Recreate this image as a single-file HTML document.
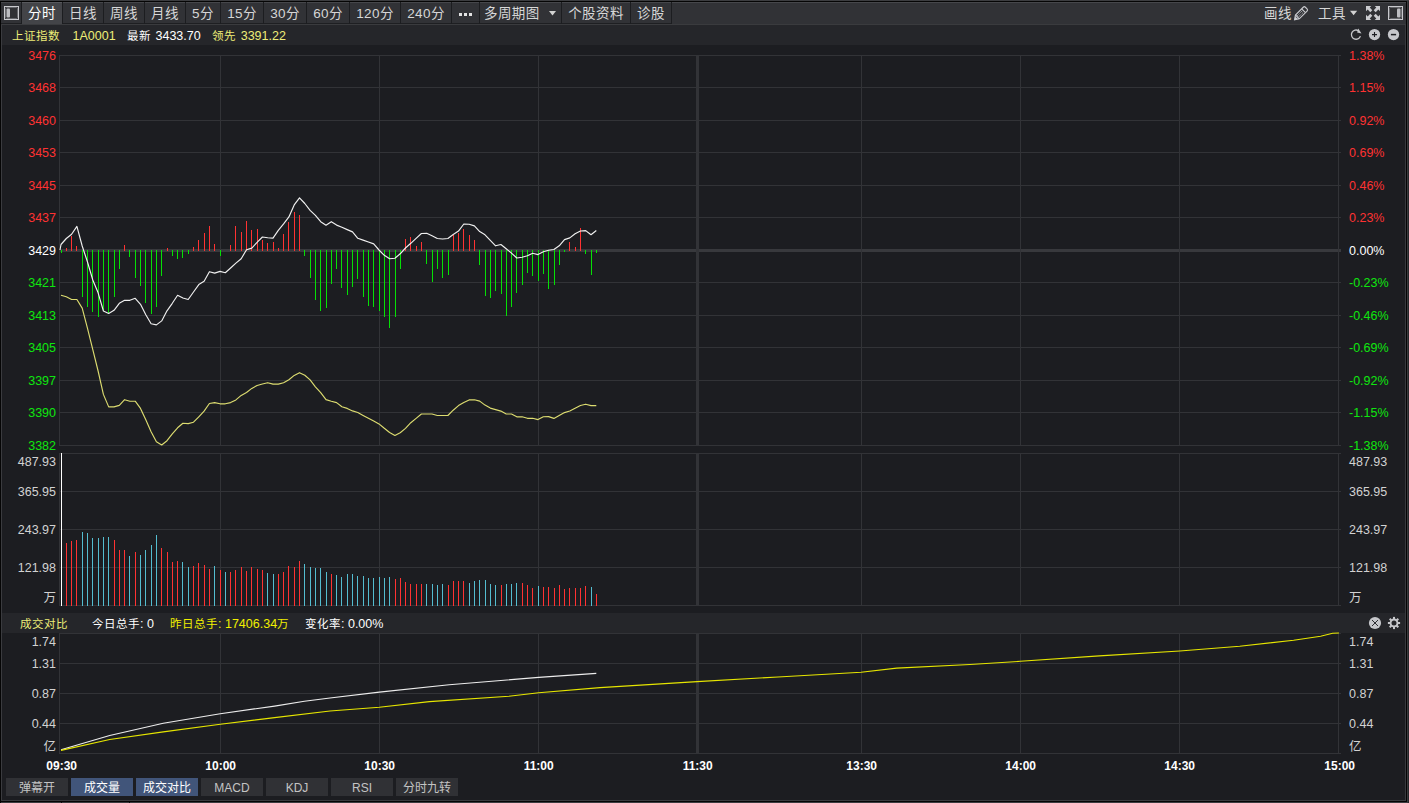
<!DOCTYPE html><html lang="zh"><head><meta charset="utf-8"><title>上证指数 分时</title><style>
*{margin:0;padding:0;box-sizing:border-box}
html,body{width:1409px;height:803px;overflow:hidden;background:#1c1d21}
body{position:relative;font-family:"Liberation Sans","Noto Sans CJK SC",sans-serif;font-size:12px;color:#d2d2d2}
.abs{position:absolute}
#tb{position:absolute;left:1px;top:2px;width:1405px;height:22px;background:#313236;border-top:1px solid #46474b}
.sep{position:absolute;top:-1px;width:1px;height:22px;background:#1c1d20}
.tab{position:absolute;top:0;height:21px;line-height:22px;font-size:13.5px;letter-spacing:0.4px;color:#d6d6d6;text-align:center;padding-left:1px;box-shadow:inset 0 -1px 0 #1e1f22;white-space:nowrap}
.tab.on{background:#434448;color:#fff;top:-1px;height:22px;border-top:1px solid #58595d;box-shadow:none}
.tr{position:absolute;top:0;height:21px;line-height:22px;font-size:13.5px;letter-spacing:0.4px;color:#d6d6d6;white-space:nowrap}
#info{position:absolute;left:2px;top:25px;width:1403px;height:20px;background:#25262a}
#info span,#hdr span{position:absolute;top:1px;line-height:20px;white-space:nowrap;font-size:11.5px;letter-spacing:0.5px}
#hdr{position:absolute;left:2px;top:613px;width:1403px;height:20px;background:#25262a}
.yl{position:absolute;left:0;width:56px;text-align:right;line-height:14px;height:14px;white-space:nowrap;font-size:12.5px}
.yr{position:absolute;left:1349px;text-align:left;line-height:14px;height:14px;white-space:nowrap;font-size:12.5px}
#info span.n,#hdr span .n,.n{font-size:12.5px;letter-spacing:0}i{font-style:normal}.r{color:#ff3232}.g{color:#0fe60f}.w{color:#fff}.y{color:#eded78}
.tm{position:absolute;top:758px;width:60px;margin-left:-30px;text-align:center;line-height:16px;font-weight:bold;color:#fff;font-size:12px}
.btn{position:absolute;top:778px;width:62px;height:18px;line-height:20px;overflow:hidden;text-align:center;background:#303135;color:#c4c4c4;font-size:12px;white-space:nowrap}
.btn.on{background:#41557a;color:#fff}
svg{position:absolute;left:0;top:0}
</style></head><body>
<div class="abs" style="left:0;top:0;width:1409px;height:1px;background:#3c3d40"></div>
<div class="abs" style="left:0;top:1px;width:1409px;height:1px;background:#050505"></div>
<div class="abs" style="left:0;top:1px;width:1px;height:802px;background:#050505"></div>
<div class="abs" style="left:1px;top:24px;width:1px;height:776px;background:#3a3b3f"></div>
<div class="abs" style="left:1405px;top:25px;width:1px;height:775px;background:#38393d"></div>
<div class="abs" style="left:1406px;top:1px;width:1px;height:801px;background:#050505"></div>
<div class="abs" style="left:1407px;top:1px;width:1px;height:802px;background:#38393c"></div>
<div class="abs" style="left:1408px;top:1px;width:1px;height:802px;background:#26272a"></div>
<div class="abs" style="left:1px;top:23px;width:1405px;height:1px;background:#1d1e21"></div>
<div class="abs" style="left:1px;top:24px;width:1405px;height:1px;background:#3a3b3e"></div>
<div class="abs" style="left:1px;top:800px;width:1405px;height:1px;background:#3a3b3f"></div>
<div class="abs" style="left:0;top:801px;width:1407px;height:1px;background:#050505"></div>
<div class="abs" style="left:1px;top:802px;width:1406px;height:1px;background:#3c3d41"></div>
<div class="abs" style="left:61px;top:802px;width:1px;height:1px;background:#0c0c0e"></div>
<div class="abs" style="left:129px;top:802px;width:1px;height:1px;background:#0c0c0e"></div>
<div id="tb">
<svg width="21" height="21" style="left:0;top:0"><rect x="3.500" y="3.500" width="14" height="13" fill="#303134" stroke="#c8c9cd"/><rect x="4.500" y="4.500" width="12" height="11" rx="1" fill="none" stroke="#66676b"/><rect x="5.500" y="5.500" width="3.500" height="9" rx="1" fill="#bcbdc1"/></svg>
<div class="tab on" style="left:20px;width:41px">分时</div>
<div class="tab" style="left:61px;width:41px">日线</div>
<div class="tab" style="left:102px;width:41px">周线</div>
<div class="tab" style="left:143px;width:41px">月线</div>
<div class="tab" style="left:184px;width:35px">5分</div>
<div class="tab" style="left:219px;width:43px">15分</div>
<div class="tab" style="left:262px;width:43px">30分</div>
<div class="tab" style="left:305px;width:43px">60分</div>
<div class="tab" style="left:348px;width:51px">120分</div>
<div class="tab" style="left:399px;width:51px">240分</div>
<div class="tab" style="left:450px;width:28px"></div>
<div class="tab" style="left:478px;width:82px;text-align:left;padding-left:5px">多周期图</div>
<div class="tab" style="left:560px;width:69px">个股资料</div>
<div class="tab" style="left:629px;width:41px">诊股</div>
<div class="tab" style="left:0;width:20px"></div>
<div class="sep" style="left:20px"></div>
<div class="sep" style="left:61px"></div>
<div class="sep" style="left:102px"></div>
<div class="sep" style="left:143px"></div>
<div class="sep" style="left:184px"></div>
<div class="sep" style="left:219px"></div>
<div class="sep" style="left:262px"></div>
<div class="sep" style="left:305px"></div>
<div class="sep" style="left:348px"></div>
<div class="sep" style="left:399px"></div>
<div class="sep" style="left:450px"></div>
<div class="sep" style="left:478px"></div>
<div class="sep" style="left:560px"></div>
<div class="sep" style="left:629px"></div>
<div class="sep" style="left:670px"></div>
<svg width="120" height="21" style="left:450px;top:0"><g fill="#e2e2e2"><rect x="8" y="10" width="3" height="3"/><rect x="13" y="10" width="3" height="3"/><rect x="18" y="10" width="3" height="3"/></g><path d="M98 8h7l-3.5 4.5z" fill="#d2d2d2"/></svg>
<div class="tr" style="left:1263px">画线</div>
<svg width="18" height="21" style="left:1292px;top:0" fill="none" stroke="#c9cace" stroke-width="1.150"><g transform="translate(1.400,16.900) rotate(-45)"><path d="M0.300 0L4.200-2.700H15.200Q16.700-2.700 16.700-1.200V1.200Q16.700 2.700 15.200 2.700H4.200Z"/><path d="M0.300 0L3-1.700V1.700Z" fill="#c9cace" stroke="none"/><path d="M4.200-2.700V2.700M13-2.700V2.700"/><path d="M5-0.900H12.500M5 0.900H12.500" stroke-dasharray="1 0.800" stroke-width="0.900"/></g></svg>
<div class="tr" style="left:1317px">工具</div>
<svg width="10" height="21" style="left:1349px;top:0"><path d="M0 7.800h7.200l-3.600 4.500z" fill="#d2d2d2"/></svg>
<svg width="16" height="21" style="left:1364px;top:0" fill="#cbccd0"><path id="fa" d="M1 3h5.300l-1.600 1.600 2.600 2.600-2 2-2.600-2.600L1 8.300z"/><use href="#fa" transform="translate(16,0) scale(-1,1)"/><use href="#fa" transform="translate(0,20) scale(1,-1)"/><use href="#fa" transform="translate(16,20) scale(-1,-1)"/></svg>
<svg width="18" height="21" style="left:1386px;top:0"><rect x="1.500" y="3.500" width="14" height="13" fill="#303134" stroke="#c8c9cd"/><rect x="2.500" y="4.500" width="12" height="11" rx="1" fill="none" stroke="#66676b"/><rect x="10" y="5.500" width="3.500" height="9" rx="1" fill="#bcbdc1"/></svg>
</div>
<div id="info">
<span class="y" style="left:10px">上证指数</span><span class="y n" style="left:70.500px">1A0001</span><span class="w" style="left:125px">最新</span><span class="w n" style="left:153.500px">3433.70</span><span class="y" style="left:210px">领先</span><span class="y n" style="left:238.700px">3391.22</span>
<svg width="60" height="20" style="left:1344px;top:0"><path d="M12.600 5.800A4.600 4.600 0 1 0 14.400 11.100" fill="none" stroke="#c6c7cb" stroke-width="1.300"/><path d="M12.300 3.500l3.200 5-4.400-1z" fill="#c6c7cb"/><circle cx="28.500" cy="9.600" r="5.650" fill="#c6c7cb"/><path d="M26 9.600h5M28.500 7.100v5" stroke="#1c1d21" stroke-width="1.100"/><circle cx="47.500" cy="9.600" r="5.650" fill="#c6c7cb"/><path d="M44.900 9.600h5.200" stroke="#1c1d21" stroke-width="1.500"/></svg>
</div>
<div id="hdr">
<span class="y" style="left:18px">成交对比</span><span class="w" style="left:90px">今日总手<i class="n">: 0</i></span><span style="left:168px;color:#f0f000">昨日总手<i class="n">: 17406.34</i>万</span><span class="w" style="left:303px">变化率<i class="n">: 0.00%</i></span>
<svg width="42" height="20" style="left:1362px;top:0"><circle cx="11" cy="10" r="6.100" fill="#c6c7cb"/><path d="M8 7l6 6M14 7l-6 6" stroke="#1c1d21" stroke-width="0.900"/><g transform="translate(30,10)" fill="#c6c7cb"><circle r="3.450" fill="none" stroke="#c6c7cb" stroke-width="1.900"/><rect x="-1" y="-6.100" width="2" height="2.600" transform="rotate(0)"/><rect x="-1" y="-6.100" width="2" height="2.600" transform="rotate(45)"/><rect x="-1" y="-6.100" width="2" height="2.600" transform="rotate(90)"/><rect x="-1" y="-6.100" width="2" height="2.600" transform="rotate(135)"/><rect x="-1" y="-6.100" width="2" height="2.600" transform="rotate(180)"/><rect x="-1" y="-6.100" width="2" height="2.600" transform="rotate(225)"/><rect x="-1" y="-6.100" width="2" height="2.600" transform="rotate(270)"/><rect x="-1" y="-6.100" width="2" height="2.600" transform="rotate(315)"/></g></svg>
</div>
<div class="yl r" style="top:49px">3476</div><div class="yr r" style="top:49px">1.38%</div>
<div class="yl r" style="top:81px">3468</div><div class="yr r" style="top:81px">1.15%</div>
<div class="yl r" style="top:114px">3460</div><div class="yr r" style="top:114px">0.92%</div>
<div class="yl r" style="top:146px">3453</div><div class="yr r" style="top:146px">0.69%</div>
<div class="yl r" style="top:179px">3445</div><div class="yr r" style="top:179px">0.46%</div>
<div class="yl r" style="top:211px">3437</div><div class="yr r" style="top:211px">0.23%</div>
<div class="yl w" style="top:244px">3429</div><div class="yr w" style="top:244px">0.00%</div>
<div class="yl g" style="top:276px">3421</div><div class="yr g" style="top:276px">-0.23%</div>
<div class="yl g" style="top:309px">3413</div><div class="yr g" style="top:309px">-0.46%</div>
<div class="yl g" style="top:341px">3405</div><div class="yr g" style="top:341px">-0.69%</div>
<div class="yl g" style="top:374px">3397</div><div class="yr g" style="top:374px">-0.92%</div>
<div class="yl g" style="top:406px">3390</div><div class="yr g" style="top:406px">-1.15%</div>
<div class="yl g" style="top:439px">3382</div><div class="yr g" style="top:439px">-1.38%</div>
<div class="yl" style="top:455px">487.93</div><div class="yr" style="top:455px">487.93</div>
<div class="yl" style="top:485px">365.95</div><div class="yr" style="top:485px">365.95</div>
<div class="yl" style="top:523px">243.97</div><div class="yr" style="top:523px">243.97</div>
<div class="yl" style="top:561px">121.98</div><div class="yr" style="top:561px">121.98</div>
<div class="yl" style="top:591px">万</div><div class="yr" style="top:591px">万</div>
<div class="yl" style="top:635px">1.74</div><div class="yr" style="top:635px">1.74</div>
<div class="yl" style="top:657px">1.31</div><div class="yr" style="top:657px">1.31</div>
<div class="yl" style="top:687px">0.87</div><div class="yr" style="top:687px">0.87</div>
<div class="yl" style="top:717px">0.44</div><div class="yr" style="top:717px">0.44</div>
<div class="yl" style="top:740px">亿</div><div class="yr" style="top:740px">亿</div>
<div class="tm" style="left:61.7px">09:30</div>
<div class="tm" style="left:220.7px">10:00</div>
<div class="tm" style="left:379.7px">10:30</div>
<div class="tm" style="left:538.7px">11:00</div>
<div class="tm" style="left:697.7px">11:30</div>
<div class="tm" style="left:861.7px">13:30</div>
<div class="tm" style="left:1020.7px">14:00</div>
<div class="tm" style="left:1179.7px">14:30</div>
<div class="tm" style="left:1339.7px">15:00</div>
<div class="btn" style="left:6px">弹幕开</div>
<div class="btn on" style="left:71px">成交量</div>
<div class="btn on" style="left:136px">成交对比</div>
<div class="btn" style="left:201px">MACD</div>
<div class="btn" style="left:266px">KDJ</div>
<div class="btn" style="left:331px">RSI</div>
<div class="btn" style="left:396px">分时九转</div>
<svg width="1409" height="803" viewBox="0 0 1409 803"><g fill="#323337" shape-rendering="crispEdges"><rect x="59" y="55" width="1282" height="1"/><rect x="59" y="87" width="1282" height="1"/><rect x="59" y="120" width="1282" height="1"/><rect x="59" y="152" width="1282" height="1"/><rect x="59" y="185" width="1282" height="1"/><rect x="59" y="217" width="1282" height="1"/><rect x="59" y="249" width="1282" height="3" fill="#38393d"/><rect x="59" y="282" width="1282" height="1"/><rect x="59" y="315" width="1282" height="1"/><rect x="59" y="347" width="1282" height="1"/><rect x="59" y="380" width="1282" height="1"/><rect x="59" y="412" width="1282" height="1"/><rect x="59" y="445" width="1282" height="1"/><rect x="59" y="453" width="1282" height="1"/><rect x="59" y="491" width="1282" height="1"/><rect x="59" y="529" width="1282" height="1"/><rect x="59" y="567" width="1282" height="1"/><rect x="59" y="605" width="1282" height="1"/><rect x="59" y="633" width="1282" height="1"/><rect x="59" y="663" width="1282" height="1"/><rect x="59" y="693" width="1282" height="1"/><rect x="59" y="723" width="1282" height="1"/><rect x="59" y="753" width="1282" height="1"/><rect x="59" y="55" width="1" height="391"/><rect x="220" y="55" width="1" height="391"/><rect x="379" y="55" width="1" height="391"/><rect x="538" y="55" width="1" height="391"/><rect x="861" y="55" width="1" height="391"/><rect x="1020" y="55" width="1" height="391"/><rect x="1179" y="55" width="1" height="391"/><rect x="1338" y="55" width="1" height="391"/><rect x="696" y="55" width="3" height="391"/><rect x="59" y="453" width="1" height="153"/><rect x="220" y="453" width="1" height="153"/><rect x="379" y="453" width="1" height="153"/><rect x="538" y="453" width="1" height="153"/><rect x="861" y="453" width="1" height="153"/><rect x="1020" y="453" width="1" height="153"/><rect x="1179" y="453" width="1" height="153"/><rect x="1338" y="453" width="1" height="153"/><rect x="696" y="453" width="3" height="153"/><rect x="59" y="633" width="1" height="121"/><rect x="220" y="633" width="1" height="121"/><rect x="379" y="633" width="1" height="121"/><rect x="538" y="633" width="1" height="121"/><rect x="861" y="633" width="1" height="121"/><rect x="1020" y="633" width="1" height="121"/><rect x="1179" y="633" width="1" height="121"/><rect x="1338" y="633" width="1" height="121"/><rect x="696" y="633" width="3" height="121"/></g><g shape-rendering="crispEdges"><rect x="61" y="250" width="1" height="3" fill="#05e005"/><rect x="66" y="248" width="1" height="3" fill="#ff3232"/><rect x="71" y="236" width="1" height="15" fill="#ff3232"/><rect x="76" y="246" width="1" height="5" fill="#ff3232"/><rect x="82" y="250" width="1" height="47" fill="#05e005"/><rect x="87" y="250" width="1" height="57" fill="#05e005"/><rect x="92" y="250" width="1" height="62" fill="#05e005"/><rect x="98" y="250" width="1" height="67" fill="#05e005"/><rect x="103" y="250" width="1" height="61" fill="#05e005"/><rect x="108" y="250" width="1" height="63" fill="#05e005"/><rect x="114" y="250" width="1" height="47" fill="#05e005"/><rect x="119" y="250" width="1" height="19" fill="#05e005"/><rect x="124" y="245" width="1" height="6" fill="#ff3232"/><rect x="129" y="250" width="1" height="7" fill="#05e005"/><rect x="135" y="250" width="1" height="28" fill="#05e005"/><rect x="140" y="250" width="1" height="36" fill="#05e005"/><rect x="145" y="250" width="1" height="53" fill="#05e005"/><rect x="151" y="250" width="1" height="64" fill="#05e005"/><rect x="156" y="250" width="1" height="57" fill="#05e005"/><rect x="161" y="250" width="1" height="26" fill="#05e005"/><rect x="167" y="248" width="1" height="3" fill="#ff3232"/><rect x="172" y="250" width="1" height="6" fill="#05e005"/><rect x="177" y="250" width="1" height="9" fill="#05e005"/><rect x="182" y="250" width="1" height="8" fill="#05e005"/><rect x="188" y="250" width="1" height="4" fill="#05e005"/><rect x="193" y="247" width="1" height="4" fill="#ff3232"/><rect x="198" y="240" width="1" height="11" fill="#ff3232"/><rect x="204" y="233" width="1" height="18" fill="#ff3232"/><rect x="209" y="226" width="1" height="25" fill="#ff3232"/><rect x="214" y="244" width="1" height="7" fill="#ff3232"/><rect x="220" y="250" width="1" height="6" fill="#05e005"/><rect x="230" y="245" width="1" height="6" fill="#ff3232"/><rect x="235" y="226" width="1" height="25" fill="#ff3232"/><rect x="241" y="232" width="1" height="19" fill="#ff3232"/><rect x="246" y="221" width="1" height="30" fill="#ff3232"/><rect x="251" y="230" width="1" height="21" fill="#ff3232"/><rect x="257" y="229" width="1" height="22" fill="#ff3232"/><rect x="262" y="240" width="1" height="11" fill="#ff3232"/><rect x="267" y="243" width="1" height="8" fill="#ff3232"/><rect x="273" y="242" width="1" height="9" fill="#ff3232"/><rect x="278" y="248" width="1" height="3" fill="#ff3232"/><rect x="283" y="234" width="1" height="17" fill="#ff3232"/><rect x="288" y="222" width="1" height="29" fill="#ff3232"/><rect x="294" y="212" width="1" height="39" fill="#ff3232"/><rect x="299" y="215" width="1" height="36" fill="#ff3232"/><rect x="304" y="250" width="1" height="6" fill="#05e005"/><rect x="310" y="250" width="1" height="28" fill="#05e005"/><rect x="315" y="250" width="1" height="50" fill="#05e005"/><rect x="320" y="250" width="1" height="61" fill="#05e005"/><rect x="326" y="250" width="1" height="58" fill="#05e005"/><rect x="331" y="250" width="1" height="34" fill="#05e005"/><rect x="336" y="250" width="1" height="19" fill="#05e005"/><rect x="341" y="250" width="1" height="38" fill="#05e005"/><rect x="347" y="250" width="1" height="45" fill="#05e005"/><rect x="352" y="250" width="1" height="37" fill="#05e005"/><rect x="357" y="250" width="1" height="29" fill="#05e005"/><rect x="363" y="250" width="1" height="47" fill="#05e005"/><rect x="368" y="250" width="1" height="56" fill="#05e005"/><rect x="373" y="250" width="1" height="57" fill="#05e005"/><rect x="379" y="250" width="1" height="61" fill="#05e005"/><rect x="384" y="250" width="1" height="67" fill="#05e005"/><rect x="389" y="250" width="1" height="78" fill="#05e005"/><rect x="395" y="250" width="1" height="67" fill="#05e005"/><rect x="400" y="250" width="1" height="19" fill="#05e005"/><rect x="405" y="239" width="1" height="12" fill="#ff3232"/><rect x="410" y="237" width="1" height="14" fill="#ff3232"/><rect x="416" y="246" width="1" height="5" fill="#ff3232"/><rect x="421" y="242" width="1" height="9" fill="#ff3232"/><rect x="426" y="250" width="1" height="14" fill="#05e005"/><rect x="432" y="250" width="1" height="32" fill="#05e005"/><rect x="437" y="250" width="1" height="19" fill="#05e005"/><rect x="442" y="250" width="1" height="28" fill="#05e005"/><rect x="448" y="250" width="1" height="25" fill="#05e005"/><rect x="453" y="235" width="1" height="16" fill="#ff3232"/><rect x="458" y="233" width="1" height="18" fill="#ff3232"/><rect x="463" y="229" width="1" height="22" fill="#ff3232"/><rect x="469" y="235" width="1" height="16" fill="#ff3232"/><rect x="474" y="240" width="1" height="11" fill="#ff3232"/><rect x="479" y="250" width="1" height="15" fill="#05e005"/><rect x="485" y="250" width="1" height="46" fill="#05e005"/><rect x="490" y="250" width="1" height="48" fill="#05e005"/><rect x="495" y="250" width="1" height="41" fill="#05e005"/><rect x="501" y="250" width="1" height="44" fill="#05e005"/><rect x="506" y="250" width="1" height="66" fill="#05e005"/><rect x="511" y="250" width="1" height="57" fill="#05e005"/><rect x="516" y="250" width="1" height="43" fill="#05e005"/><rect x="522" y="250" width="1" height="35" fill="#05e005"/><rect x="527" y="250" width="1" height="23" fill="#05e005"/><rect x="532" y="250" width="1" height="26" fill="#05e005"/><rect x="538" y="250" width="1" height="31" fill="#05e005"/><rect x="543" y="250" width="1" height="24" fill="#05e005"/><rect x="548" y="250" width="1" height="39" fill="#05e005"/><rect x="554" y="250" width="1" height="35" fill="#05e005"/><rect x="559" y="250" width="1" height="15" fill="#05e005"/><rect x="564" y="250" width="1" height="2" fill="#05e005"/><rect x="569" y="242" width="1" height="9" fill="#ff3232"/><rect x="575" y="247" width="1" height="4" fill="#ff3232"/><rect x="580" y="228" width="1" height="23" fill="#ff3232"/><rect x="585" y="250" width="1" height="4" fill="#05e005"/><rect x="591" y="250" width="1" height="25" fill="#05e005"/><rect x="596" y="250" width="1" height="3" fill="#05e005"/><rect x="61" y="453" width="1" height="153" fill="#ffffff"/><rect x="66" y="543" width="1" height="63" fill="#ff3232"/><rect x="71" y="541" width="1" height="65" fill="#ff3232"/><rect x="76" y="540" width="1" height="66" fill="#ff3232"/><rect x="82" y="532" width="1" height="74" fill="#54bdd0"/><rect x="87" y="533" width="1" height="73" fill="#54bdd0"/><rect x="92" y="538" width="1" height="68" fill="#54bdd0"/><rect x="98" y="538" width="1" height="68" fill="#54bdd0"/><rect x="103" y="537" width="1" height="69" fill="#54bdd0"/><rect x="108" y="537" width="1" height="69" fill="#54bdd0"/><rect x="114" y="540" width="1" height="66" fill="#ff3232"/><rect x="119" y="550" width="1" height="56" fill="#ff3232"/><rect x="124" y="550" width="1" height="56" fill="#ff3232"/><rect x="129" y="556" width="1" height="50" fill="#54bdd0"/><rect x="135" y="552" width="1" height="54" fill="#ff3232"/><rect x="140" y="555" width="1" height="51" fill="#54bdd0"/><rect x="145" y="550" width="1" height="56" fill="#54bdd0"/><rect x="151" y="545" width="1" height="61" fill="#54bdd0"/><rect x="156" y="535" width="1" height="71" fill="#54bdd0"/><rect x="161" y="548" width="1" height="58" fill="#ff3232"/><rect x="167" y="552" width="1" height="54" fill="#ff3232"/><rect x="172" y="562" width="1" height="44" fill="#ff3232"/><rect x="177" y="561" width="1" height="45" fill="#ff3232"/><rect x="182" y="562" width="1" height="44" fill="#54bdd0"/><rect x="188" y="567" width="1" height="39" fill="#54bdd0"/><rect x="193" y="566" width="1" height="40" fill="#ff3232"/><rect x="198" y="563" width="1" height="43" fill="#ff3232"/><rect x="204" y="565" width="1" height="41" fill="#ff3232"/><rect x="209" y="569" width="1" height="37" fill="#ff3232"/><rect x="214" y="566" width="1" height="40" fill="#54bdd0"/><rect x="220" y="570" width="1" height="36" fill="#ff3232"/><rect x="225" y="572" width="1" height="34" fill="#54bdd0"/><rect x="230" y="572" width="1" height="34" fill="#ff3232"/><rect x="235" y="570" width="1" height="36" fill="#ff3232"/><rect x="241" y="567" width="1" height="39" fill="#ff3232"/><rect x="246" y="571" width="1" height="35" fill="#ff3232"/><rect x="251" y="567" width="1" height="39" fill="#ff3232"/><rect x="257" y="569" width="1" height="37" fill="#ff3232"/><rect x="262" y="570" width="1" height="36" fill="#ff3232"/><rect x="267" y="573" width="1" height="33" fill="#54bdd0"/><rect x="273" y="574" width="1" height="32" fill="#54bdd0"/><rect x="278" y="574" width="1" height="32" fill="#ff3232"/><rect x="283" y="572" width="1" height="34" fill="#ff3232"/><rect x="288" y="566" width="1" height="40" fill="#ff3232"/><rect x="294" y="567" width="1" height="39" fill="#ff3232"/><rect x="299" y="561" width="1" height="45" fill="#ff3232"/><rect x="304" y="564" width="1" height="42" fill="#54bdd0"/><rect x="310" y="567" width="1" height="39" fill="#54bdd0"/><rect x="315" y="568" width="1" height="38" fill="#54bdd0"/><rect x="320" y="568" width="1" height="38" fill="#54bdd0"/><rect x="326" y="572" width="1" height="34" fill="#54bdd0"/><rect x="331" y="574" width="1" height="32" fill="#ff3232"/><rect x="336" y="575" width="1" height="31" fill="#54bdd0"/><rect x="341" y="577" width="1" height="29" fill="#54bdd0"/><rect x="347" y="574" width="1" height="32" fill="#54bdd0"/><rect x="352" y="574" width="1" height="32" fill="#54bdd0"/><rect x="357" y="576" width="1" height="30" fill="#54bdd0"/><rect x="363" y="576" width="1" height="30" fill="#54bdd0"/><rect x="368" y="578" width="1" height="28" fill="#54bdd0"/><rect x="373" y="578" width="1" height="28" fill="#54bdd0"/><rect x="379" y="577" width="1" height="29" fill="#54bdd0"/><rect x="384" y="578" width="1" height="28" fill="#54bdd0"/><rect x="389" y="577" width="1" height="29" fill="#54bdd0"/><rect x="395" y="579" width="1" height="27" fill="#ff3232"/><rect x="400" y="578" width="1" height="28" fill="#ff3232"/><rect x="405" y="582" width="1" height="24" fill="#ff3232"/><rect x="410" y="584" width="1" height="22" fill="#ff3232"/><rect x="416" y="584" width="1" height="22" fill="#ff3232"/><rect x="421" y="584" width="1" height="22" fill="#ff3232"/><rect x="426" y="584" width="1" height="22" fill="#54bdd0"/><rect x="432" y="584" width="1" height="22" fill="#54bdd0"/><rect x="437" y="585" width="1" height="21" fill="#54bdd0"/><rect x="442" y="584" width="1" height="22" fill="#54bdd0"/><rect x="448" y="585" width="1" height="21" fill="#ff3232"/><rect x="453" y="581" width="1" height="25" fill="#ff3232"/><rect x="458" y="581" width="1" height="25" fill="#ff3232"/><rect x="463" y="581" width="1" height="25" fill="#ff3232"/><rect x="469" y="583" width="1" height="23" fill="#54bdd0"/><rect x="474" y="581" width="1" height="25" fill="#54bdd0"/><rect x="479" y="580" width="1" height="26" fill="#54bdd0"/><rect x="485" y="580" width="1" height="26" fill="#54bdd0"/><rect x="490" y="584" width="1" height="22" fill="#54bdd0"/><rect x="495" y="585" width="1" height="21" fill="#54bdd0"/><rect x="501" y="585" width="1" height="21" fill="#ff3232"/><rect x="506" y="584" width="1" height="22" fill="#54bdd0"/><rect x="511" y="584" width="1" height="22" fill="#54bdd0"/><rect x="516" y="583" width="1" height="23" fill="#54bdd0"/><rect x="522" y="583" width="1" height="23" fill="#ff3232"/><rect x="527" y="585" width="1" height="21" fill="#ff3232"/><rect x="532" y="588" width="1" height="18" fill="#ff3232"/><rect x="538" y="586" width="1" height="20" fill="#54bdd0"/><rect x="543" y="587" width="1" height="19" fill="#ff3232"/><rect x="548" y="587" width="1" height="19" fill="#ff3232"/><rect x="554" y="588" width="1" height="18" fill="#ff3232"/><rect x="559" y="585" width="1" height="21" fill="#ff3232"/><rect x="564" y="589" width="1" height="17" fill="#ff3232"/><rect x="569" y="588" width="1" height="18" fill="#ff3232"/><rect x="575" y="588" width="1" height="18" fill="#ff3232"/><rect x="580" y="588" width="1" height="18" fill="#ff3232"/><rect x="585" y="586" width="1" height="20" fill="#ff3232"/><rect x="591" y="587" width="1" height="19" fill="#54bdd0"/><rect x="596" y="594" width="1" height="12" fill="#ff3232"/></g><polyline points="61.0,295.2 66.3,296.8 71.6,299.5 76.9,299.5 82.2,308.1 87.5,328.4 92.8,349.6 98.1,371.0 103.4,394.4 108.7,406.9 114.0,406.9 119.3,405.4 124.6,399.7 129.9,401.2 135.2,401.2 140.5,408.4 145.8,419.8 151.1,431.8 156.4,441.7 161.7,445.0 167.0,440.7 172.3,433.8 177.6,427.8 182.9,423.3 188.2,423.6 193.5,422.2 198.8,416.8 204.1,411.2 209.4,403.5 214.7,402.6 220.0,403.8 225.3,403.8 230.6,402.6 235.9,399.9 241.2,395.4 246.5,392.5 251.8,388.4 257.1,385.5 262.4,384.0 267.7,382.7 273.0,384.1 278.3,384.1 283.6,382.7 288.9,379.8 294.2,375.4 299.5,372.7 304.8,375.3 310.1,379.9 315.4,386.8 320.7,392.6 326.0,399.6 331.3,401.2 336.6,402.6 341.9,406.7 347.2,408.4 352.5,410.9 357.8,412.5 363.1,415.4 368.4,418.2 373.7,421.0 379.0,423.9 384.3,428.3 389.6,432.5 394.9,435.5 400.2,432.8 405.5,428.4 410.8,422.7 416.1,418.4 421.4,414.0 426.7,414.0 432.0,414.0 437.3,415.5 442.6,415.5 447.9,415.5 453.2,410.2 458.5,405.6 463.8,402.5 469.1,399.9 474.4,399.7 479.7,401.1 485.0,405.1 490.3,408.1 495.6,409.6 500.9,411.1 506.2,414.0 511.5,414.0 516.8,416.8 522.1,416.8 527.4,418.3 532.7,418.3 538.0,419.6 543.3,416.8 548.6,416.6 553.9,418.4 559.2,415.5 564.5,412.6 569.8,411.0 575.1,408.3 580.4,405.5 585.7,404.2 591.0,405.6 596.3,405.6" fill="none" stroke="#dcdc70" stroke-width="1.15" stroke-linejoin="round"/><polyline points="60,250 61.0,244.5 66.3,238.5 71.6,234.3 76.9,226.4 82.2,246.0 87.5,262.0 92.8,280.0 98.1,292.8 103.4,311.0 108.7,313.5 114.0,310.3 119.3,303.3 124.6,300.3 129.9,300.3 135.2,298.3 140.5,304.3 145.8,314.8 151.1,323.7 156.4,324.9 161.7,320.9 167.0,310.8 172.3,303.3 177.6,295.3 182.9,298.0 188.2,299.5 193.5,292.0 198.8,284.6 204.1,281.2 209.4,271.7 214.7,273.1 220.0,271.4 225.3,272.7 230.6,268.0 235.9,263.1 241.2,258.7 246.5,249.8 251.8,248.1 257.1,242.3 262.4,237.0 267.7,237.8 273.0,238.1 278.3,230.4 283.6,223.9 288.9,216.9 294.2,204.9 299.5,197.8 304.8,203.5 310.1,210.4 315.4,215.4 320.7,221.7 326.0,225.2 331.3,221.7 336.6,225.1 341.9,227.3 347.2,229.6 352.5,231.9 357.8,238.3 363.1,240.1 368.4,242.0 373.7,243.9 379.0,250.0 384.3,255.3 389.6,258.7 394.9,258.3 400.2,253.8 405.5,248.0 410.8,243.3 416.1,238.3 421.4,233.5 426.7,233.3 432.0,235.8 437.3,238.5 442.6,239.0 447.9,238.5 453.2,234.5 458.5,231.1 463.8,224.0 469.1,224.3 474.4,225.9 479.7,231.6 485.0,234.8 490.3,240.3 495.6,245.8 500.9,244.5 506.2,248.8 511.5,253.1 516.8,258.0 522.1,257.3 527.4,255.8 532.7,253.3 538.0,254.6 543.3,251.8 548.6,250.3 553.9,249.5 559.2,245.8 564.5,239.6 569.8,237.9 575.1,233.7 580.4,231.0 585.7,230.6 591.0,234.7 596.3,230.5" fill="none" stroke="#f0f0f0" stroke-width="1.15" stroke-linejoin="round"/><polyline points="61.0,749.8 109.7,735.5 163.3,723.2 220.3,713.7 274.6,706.1 304.4,701.3 330,698.0 379.3,692.1 449.2,684.7 538.7,677.4 596.3,673.4" fill="none" stroke="#ededed" stroke-width="1.15"/><polyline points="61,750.4 109.7,739.5 163.3,731.9 220.3,724.2 274.6,717.6 330,711.0 379.3,707.2 429.4,701.6 508.9,696.2 538.7,692.7 600,687.6 697.1,681.6 778,677.0 861.1,672.2 896.7,668.1 970,664.5 1020.4,661.3 1099.4,655.9 1179.8,651.0 1239.7,646.2 1293.6,640.2 1320.6,636.2 1332.7,633.2 1339,633.0" fill="none" stroke="#e6e600" stroke-width="1.15"/></svg>
</body></html>
